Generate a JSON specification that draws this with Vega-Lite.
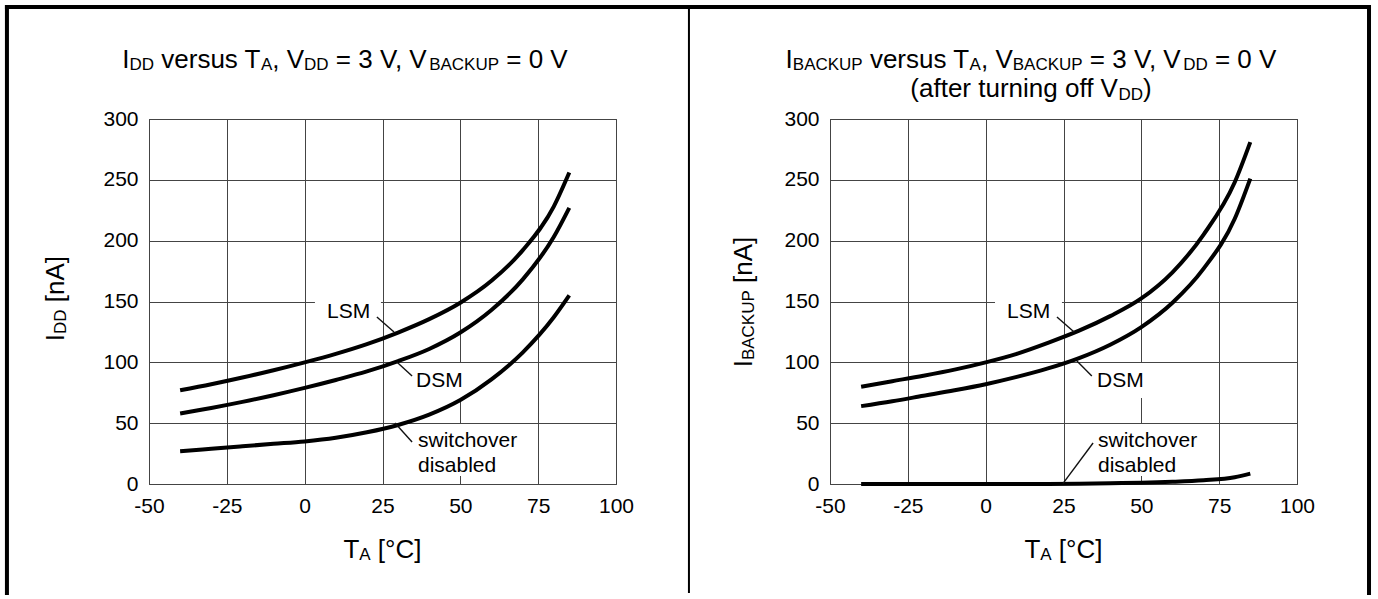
{
  "$schema": "https://vega.github.io/schema/vega-lite/v6.json",
  "background": "white",
  "padding": {"left": 3, "top": 3, "right": 4, "bottom": 0},
  "autosize": {"type": "pad"},
  "bounds": "flush",
  "spacing": 214,
  "config": {
    "font": "Liberation Sans",
    "view": {"stroke": "#222", "strokeWidth": 1},
    "axis": {"domain": false, "ticks": false, "grid": true, "gridColor": "#444", "gridWidth": 1, "gridOpacity": 1, "labelFont": "Liberation Sans", "labelFontSize": 21, "labelColor": "#000", "labelPadding": 11, "labelFlush": false, "labelOverlap": false}
  },
  "datasets": {
    "one": [{}],
    "lc": [
      {"T": -40, "I": 77, "s": "LSM"}, {"T": -30, "I": 82, "s": "LSM"}, {"T": -20, "I": 87.5, "s": "LSM"}, {"T": -10, "I": 93.5, "s": "LSM"}, {"T": 0, "I": 100, "s": "LSM"}, {"T": 10, "I": 107, "s": "LSM"}, {"T": 20, "I": 115, "s": "LSM"}, {"T": 30, "I": 124.5, "s": "LSM"}, {"T": 40, "I": 135.5, "s": "LSM"}, {"T": 50, "I": 149, "s": "LSM"}, {"T": 60, "I": 167, "s": "LSM"}, {"T": 70, "I": 192, "s": "LSM"}, {"T": 80, "I": 228, "s": "LSM"}, {"T": 85, "I": 256, "s": "LSM"},
      {"T": -40, "I": 58, "s": "DSM"}, {"T": -30, "I": 62.5, "s": "DSM"}, {"T": -20, "I": 67.5, "s": "DSM"}, {"T": -10, "I": 73, "s": "DSM"}, {"T": 0, "I": 79, "s": "DSM"}, {"T": 10, "I": 85.5, "s": "DSM"}, {"T": 20, "I": 92.5, "s": "DSM"}, {"T": 30, "I": 101, "s": "DSM"}, {"T": 40, "I": 111, "s": "DSM"}, {"T": 50, "I": 124.5, "s": "DSM"}, {"T": 60, "I": 143, "s": "DSM"}, {"T": 70, "I": 168, "s": "DSM"}, {"T": 80, "I": 203, "s": "DSM"}, {"T": 85, "I": 227, "s": "DSM"},
      {"T": -40, "I": 27, "s": "SW"}, {"T": -30, "I": 29, "s": "SW"}, {"T": -20, "I": 31, "s": "SW"}, {"T": -10, "I": 33, "s": "SW"}, {"T": 0, "I": 35, "s": "SW"}, {"T": 10, "I": 38, "s": "SW"}, {"T": 20, "I": 42.5, "s": "SW"}, {"T": 30, "I": 48.5, "s": "SW"}, {"T": 40, "I": 57, "s": "SW"}, {"T": 50, "I": 69, "s": "SW"}, {"T": 60, "I": 86, "s": "SW"}, {"T": 70, "I": 108, "s": "SW"}, {"T": 80, "I": 137, "s": "SW"}, {"T": 85, "I": 155, "s": "SW"}
    ],
    "rc": [
      {"T": -40, "I": 80, "s": "LSM"}, {"T": -30, "I": 84.5, "s": "LSM"}, {"T": -20, "I": 89, "s": "LSM"}, {"T": -10, "I": 94, "s": "LSM"}, {"T": 0, "I": 100, "s": "LSM"}, {"T": 10, "I": 107, "s": "LSM"}, {"T": 20, "I": 116, "s": "LSM"}, {"T": 30, "I": 126, "s": "LSM"}, {"T": 40, "I": 138, "s": "LSM"}, {"T": 50, "I": 152.5, "s": "LSM"}, {"T": 60, "I": 174, "s": "LSM"}, {"T": 70, "I": 205, "s": "LSM"}, {"T": 80, "I": 248, "s": "LSM"}, {"T": 85, "I": 281, "s": "LSM"},
      {"T": -40, "I": 64, "s": "DSM"}, {"T": -30, "I": 68, "s": "DSM"}, {"T": -20, "I": 72.5, "s": "DSM"}, {"T": -10, "I": 77, "s": "DSM"}, {"T": 0, "I": 82, "s": "DSM"}, {"T": 10, "I": 88, "s": "DSM"}, {"T": 20, "I": 95, "s": "DSM"}, {"T": 30, "I": 103.5, "s": "DSM"}, {"T": 40, "I": 114.5, "s": "DSM"}, {"T": 50, "I": 129, "s": "DSM"}, {"T": 60, "I": 149, "s": "DSM"}, {"T": 70, "I": 177, "s": "DSM"}, {"T": 80, "I": 218, "s": "DSM"}, {"T": 85, "I": 251, "s": "DSM"},
      {"T": -40, "I": 0, "s": "SW"}, {"T": -20, "I": 0, "s": "SW"}, {"T": 0, "I": 0, "s": "SW"}, {"T": 20, "I": 0.1, "s": "SW"}, {"T": 30, "I": 0.3, "s": "SW"}, {"T": 40, "I": 0.6, "s": "SW"}, {"T": 50, "I": 1, "s": "SW"}, {"T": 60, "I": 1.8, "s": "SW"}, {"T": 70, "I": 3.1, "s": "SW"}, {"T": 80, "I": 5.6, "s": "SW"}, {"T": 85, "I": 8.5, "s": "SW"}
    ],
    "lbox": [
      {"x": 3.3, "x2": 24.5, "y": 130.7, "y2": 155.3},
      {"x": 33.8, "x2": 53.1, "y": 70.7, "y2": 99.4},
      {"x": 34.5, "x2": 66.0, "y": 6.6, "y2": 49.3}
    ],
    "rbox": [
      {"x": 3.0, "x2": 24.5, "y": 130.7, "y2": 155.3},
      {"x": 34.2, "x2": 52.8, "y": 70.7, "y2": 99.4},
      {"x": 34.2, "x2": 65.7, "y": 6.6, "y2": 49.3}
    ],
    "llead": [
      {"x": 23.2, "y": 137.3, "x2": 28.7, "y2": 124.9},
      {"x": 29.6, "y": 100.3, "x2": 34.5, "y2": 88.8},
      {"x": 29.0, "y": 50.1, "x2": 34.5, "y2": 34.5}
    ],
    "rlead": [
      {"x": 22.9, "y": 137.3, "x2": 28.4, "y2": 124.9},
      {"x": 29.3, "y": 101.1, "x2": 34.1, "y2": 88.8},
      {"x": 34.5, "y": 33.7, "x2": 24.8, "y2": 0.3}
    ],
    "llab": [
      {"t": "LSM", "x": 7.16, "y": 136.4},
      {"t": "DSM", "x": 35.75, "y": 79.7},
      {"t": "switchover", "x": 36.4, "y": 30.4},
      {"t": "disabled", "x": 36.4, "y": 9.9}
    ],
    "rlab": [
      {"t": "LSM", "x": 6.88, "y": 136.4},
      {"t": "DSM", "x": 35.75, "y": 79.7},
      {"t": "switchover", "x": 36.07, "y": 30.4},
      {"t": "disabled", "x": 36.07, "y": 9.9}
    ],
    "ltm": [
      {"t": "I", "x": -58.59, "y": 341.9},
      {"t": "versus T", "x": -46.06, "y": 341.9},
      {"t": ", V", "x": -10.40, "y": 341.9},
      {"t": "= 3 V, V", "x": 10.02, "y": 341.9},
      {"t": "= 0 V", "x": 64.75, "y": 341.9}
    ],
    "lts": [
      {"t": "DD", "x": -56.27, "y": 340.2},
      {"t": "A", "x": -14.04, "y": 340.2},
      {"t": "DD", "x": -0.19, "y": 340.2},
      {"t": "BACKUP", "x": 39.98, "y": 340.2}
    ],
    "rtm": [
      {"t": "I", "x": -64.28, "y": 341.9},
      {"t": "versus T", "x": -37.18, "y": 341.9},
      {"t": ", V", "x": -1.52, "y": 341.9},
      {"t": "= 3 V, V", "x": 33.47, "y": 341.9},
      {"t": "= 0 V", "x": 73.63, "y": 341.9},
      {"t": "(after turning off V", "x": -24.20, "y": 317.7},
      {"t": ")", "x": 50.53, "y": 317.7}
    ],
    "rts": [
      {"t": "BACKUP", "x": -61.95, "y": 340.2},
      {"t": "A", "x": -5.16, "y": 340.2},
      {"t": "BACKUP", "x": 8.69, "y": 340.2},
      {"t": "DD", "x": 63.43, "y": 340.2},
      {"t": "DD", "x": 42.64, "y": 316.0}
    ],
    "xtm": [
      {"t": "T", "x": 12.45, "y": -60.8},
      {"t": "[°C]", "x": 23.51, "y": -60.8}
    ],
    "xts": [
      {"t": "A", "x": 17.55, "y": -62.5}
    ],
    "lym": [
      {"t": "I", "x": -77.3, "y": 117.4},
      {"t": "[nA]", "x": -77.3, "y": 149.46}
    ],
    "lys": [
      {"t": "DD", "x": -76.6, "y": 123.34}
    ],
    "rym": [
      {"t": "I", "x": -75.1, "y": 95.9},
      {"t": "[nA]", "x": -75.1, "y": 165.24}
    ],
    "rys": [
      {"t": "BACKUP", "x": -74.4, "y": 101.84}
    ]
  },
  "hconcat": [
    {
      "width": 467,
      "height": 365,
      "layer": [
        {
          "data": {"name": "lbox"},
          "mark": {"type": "rect", "fill": "white", "strokeWidth": 0},
          "encoding": {
            "x": {"field": "x", "type": "quantitative", "scale": {"domain": [-50, 100], "nice": false, "zero": false}, "axis": {"values": [-50, -25, 0, 25, 50, 75, 100], "title": null, "labelExpr": "'' + datum.value"}},
            "x2": {"field": "x2"},
            "y": {"field": "y", "type": "quantitative", "scale": {"domain": [0, 300], "nice": false, "zero": false}, "axis": {"values": [0, 50, 100, 150, 200, 250, 300], "title": null, "labelExpr": "'' + datum.value"}},
            "y2": {"field": "y2"}
          }
        },
        {
          "data": {"name": "lc"},
          "mark": {"type": "line", "interpolate": "monotone", "color": "#000", "strokeWidth": 4, "strokeCap": "butt"},
          "encoding": {
            "x": {"field": "T", "type": "quantitative", "scale": {"domain": [-50, 100], "nice": false, "zero": false}, "axis": {"values": [-50, -25, 0, 25, 50, 75, 100], "title": null, "labelExpr": "'' + datum.value"}},
            "y": {"field": "I", "type": "quantitative", "scale": {"domain": [0, 300], "nice": false, "zero": false}, "axis": {"values": [0, 50, 100, 150, 200, 250, 300], "title": null, "labelExpr": "'' + datum.value"}},
            "detail": {"field": "s"}
          }
        },
        {
          "data": {"name": "llead"},
          "mark": {"type": "rule", "color": "#111", "strokeWidth": 1.4},
          "encoding": {
            "x": {"field": "x", "type": "quantitative", "scale": {"domain": [-50, 100], "nice": false, "zero": false}, "axis": {"values": [-50, -25, 0, 25, 50, 75, 100], "title": null, "labelExpr": "'' + datum.value"}},
            "x2": {"field": "x2"},
            "y": {"field": "y", "type": "quantitative", "scale": {"domain": [0, 300], "nice": false, "zero": false}, "axis": {"values": [0, 50, 100, 150, 200, 250, 300], "title": null, "labelExpr": "'' + datum.value"}},
            "y2": {"field": "y2"}
          }
        },
        {
          "data": {"name": "llab"},
          "mark": {"type": "text", "align": "left", "baseline": "alphabetic", "fontSize": 21, "color": "#000"},
          "encoding": {
            "x": {"field": "x", "type": "quantitative", "scale": {"domain": [-50, 100], "nice": false, "zero": false}, "axis": {"values": [-50, -25, 0, 25, 50, 75, 100], "title": null, "labelExpr": "'' + datum.value"}},
            "y": {"field": "y", "type": "quantitative", "scale": {"domain": [0, 300], "nice": false, "zero": false}, "axis": {"values": [0, 50, 100, 150, 200, 250, 300], "title": null, "labelExpr": "'' + datum.value"}},
            "text": {"field": "t"}
          }
        },
        {
          "data": {"name": "ltm"},
          "mark": {"type": "text", "align": "left", "baseline": "alphabetic", "fontSize": 26, "color": "#000"},
          "encoding": {
            "x": {"field": "x", "type": "quantitative", "scale": {"domain": [-50, 100], "nice": false, "zero": false}, "axis": {"values": [-50, -25, 0, 25, 50, 75, 100], "title": null, "labelExpr": "'' + datum.value"}},
            "y": {"field": "y", "type": "quantitative", "scale": {"domain": [0, 300], "nice": false, "zero": false}, "axis": {"values": [0, 50, 100, 150, 200, 250, 300], "title": null, "labelExpr": "'' + datum.value"}},
            "text": {"field": "t"}
          }
        },
        {
          "data": {"name": "lts"},
          "mark": {"type": "text", "align": "left", "baseline": "alphabetic", "fontSize": 17, "color": "#000"},
          "encoding": {
            "x": {"field": "x", "type": "quantitative", "scale": {"domain": [-50, 100], "nice": false, "zero": false}, "axis": {"values": [-50, -25, 0, 25, 50, 75, 100], "title": null, "labelExpr": "'' + datum.value"}},
            "y": {"field": "y", "type": "quantitative", "scale": {"domain": [0, 300], "nice": false, "zero": false}, "axis": {"values": [0, 50, 100, 150, 200, 250, 300], "title": null, "labelExpr": "'' + datum.value"}},
            "text": {"field": "t"}
          }
        },
        {
          "data": {"name": "xtm"},
          "mark": {"type": "text", "align": "left", "baseline": "alphabetic", "fontSize": 26, "color": "#000"},
          "encoding": {
            "x": {"field": "x", "type": "quantitative", "scale": {"domain": [-50, 100], "nice": false, "zero": false}, "axis": {"values": [-50, -25, 0, 25, 50, 75, 100], "title": null, "labelExpr": "'' + datum.value"}},
            "y": {"field": "y", "type": "quantitative", "scale": {"domain": [0, 300], "nice": false, "zero": false}, "axis": {"values": [0, 50, 100, 150, 200, 250, 300], "title": null, "labelExpr": "'' + datum.value"}},
            "text": {"field": "t"}
          }
        },
        {
          "data": {"name": "xts"},
          "mark": {"type": "text", "align": "left", "baseline": "alphabetic", "fontSize": 17, "color": "#000"},
          "encoding": {
            "x": {"field": "x", "type": "quantitative", "scale": {"domain": [-50, 100], "nice": false, "zero": false}, "axis": {"values": [-50, -25, 0, 25, 50, 75, 100], "title": null, "labelExpr": "'' + datum.value"}},
            "y": {"field": "y", "type": "quantitative", "scale": {"domain": [0, 300], "nice": false, "zero": false}, "axis": {"values": [0, 50, 100, 150, 200, 250, 300], "title": null, "labelExpr": "'' + datum.value"}},
            "text": {"field": "t"}
          }
        },
        {
          "data": {"name": "lym"},
          "mark": {"type": "text", "align": "left", "baseline": "alphabetic", "angle": 270, "fontSize": 26, "color": "#000"},
          "encoding": {
            "x": {"field": "x", "type": "quantitative", "scale": {"domain": [-50, 100], "nice": false, "zero": false}, "axis": {"values": [-50, -25, 0, 25, 50, 75, 100], "title": null, "labelExpr": "'' + datum.value"}},
            "y": {"field": "y", "type": "quantitative", "scale": {"domain": [0, 300], "nice": false, "zero": false}, "axis": {"values": [0, 50, 100, 150, 200, 250, 300], "title": null, "labelExpr": "'' + datum.value"}},
            "text": {"field": "t"}
          }
        },
        {
          "data": {"name": "lys"},
          "mark": {"type": "text", "align": "left", "baseline": "alphabetic", "angle": 270, "fontSize": 17, "color": "#000"},
          "encoding": {
            "x": {"field": "x", "type": "quantitative", "scale": {"domain": [-50, 100], "nice": false, "zero": false}, "axis": {"values": [-50, -25, 0, 25, 50, 75, 100], "title": null, "labelExpr": "'' + datum.value"}},
            "y": {"field": "y", "type": "quantitative", "scale": {"domain": [0, 300], "nice": false, "zero": false}, "axis": {"values": [0, 50, 100, 150, 200, 250, 300], "title": null, "labelExpr": "'' + datum.value"}},
            "text": {"field": "t"}
          }
        },
        {
          "data": {"name": "one"},
          "mark": {"type": "rule", "color": "#000", "strokeWidth": 4, "strokeCap": "square"},
          "encoding": {
            "x": {"datum": -95.63, "type": "quantitative", "scale": {"domain": [-50, 100], "nice": false, "zero": false}, "axis": {"values": [-50, -25, 0, 25, 50, 75, 100], "title": null, "labelExpr": "'' + datum.value"}},
            "y": {"datum": -89.59, "type": "quantitative", "scale": {"domain": [0, 300], "nice": false, "zero": false}, "axis": {"values": [0, 50, 100, 150, 200, 250, 300], "title": null, "labelExpr": "'' + datum.value"}},
            "y2": {"datum": 392.04}
          }
        },
        {
          "data": {"name": "one"},
          "mark": {"type": "rule", "color": "#000", "strokeWidth": 4, "strokeCap": "square"},
          "encoding": {
            "x": {"datum": -95.63, "type": "quantitative", "scale": {"domain": [-50, 100], "nice": false, "zero": false}, "axis": {"values": [-50, -25, 0, 25, 50, 75, 100], "title": null, "labelExpr": "'' + datum.value"}},
            "x2": {"datum": 123.43},
            "y": {"datum": 392.04, "type": "quantitative", "scale": {"domain": [0, 300], "nice": false, "zero": false}, "axis": {"values": [0, 50, 100, 150, 200, 250, 300], "title": null, "labelExpr": "'' + datum.value"}}
          }
        },
        {
          "data": {"name": "one"},
          "mark": {"type": "rule", "color": "#000", "strokeWidth": 2},
          "encoding": {
            "x": {"datum": 123.43, "type": "quantitative", "scale": {"domain": [-50, 100], "nice": false, "zero": false}, "axis": {"values": [-50, -25, 0, 25, 50, 75, 100], "title": null, "labelExpr": "'' + datum.value"}},
            "y": {"datum": -89.59, "type": "quantitative", "scale": {"domain": [0, 300], "nice": false, "zero": false}, "axis": {"values": [0, 50, 100, 150, 200, 250, 300], "title": null, "labelExpr": "'' + datum.value"}},
            "y2": {"datum": 392.04}
          }
        }
      ]
    },
    {
      "width": 467,
      "height": 365,
      "layer": [
        {
          "data": {"name": "rbox"},
          "mark": {"type": "rect", "fill": "white", "strokeWidth": 0},
          "encoding": {
            "x": {"field": "x", "type": "quantitative", "scale": {"domain": [-50, 100], "nice": false, "zero": false}, "axis": {"values": [-50, -25, 0, 25, 50, 75, 100], "title": null, "labelExpr": "'' + datum.value"}},
            "x2": {"field": "x2"},
            "y": {"field": "y", "type": "quantitative", "scale": {"domain": [0, 300], "nice": false, "zero": false}, "axis": {"values": [0, 50, 100, 150, 200, 250, 300], "title": null, "labelExpr": "'' + datum.value"}},
            "y2": {"field": "y2"}
          }
        },
        {
          "data": {"name": "rc"},
          "mark": {"type": "line", "interpolate": "monotone", "color": "#000", "strokeWidth": 4, "strokeCap": "butt"},
          "encoding": {
            "x": {"field": "T", "type": "quantitative", "scale": {"domain": [-50, 100], "nice": false, "zero": false}, "axis": {"values": [-50, -25, 0, 25, 50, 75, 100], "title": null, "labelExpr": "'' + datum.value"}},
            "y": {"field": "I", "type": "quantitative", "scale": {"domain": [0, 300], "nice": false, "zero": false}, "axis": {"values": [0, 50, 100, 150, 200, 250, 300], "title": null, "labelExpr": "'' + datum.value"}},
            "detail": {"field": "s"}
          }
        },
        {
          "data": {"name": "rlead"},
          "mark": {"type": "rule", "color": "#111", "strokeWidth": 1.4},
          "encoding": {
            "x": {"field": "x", "type": "quantitative", "scale": {"domain": [-50, 100], "nice": false, "zero": false}, "axis": {"values": [-50, -25, 0, 25, 50, 75, 100], "title": null, "labelExpr": "'' + datum.value"}},
            "x2": {"field": "x2"},
            "y": {"field": "y", "type": "quantitative", "scale": {"domain": [0, 300], "nice": false, "zero": false}, "axis": {"values": [0, 50, 100, 150, 200, 250, 300], "title": null, "labelExpr": "'' + datum.value"}},
            "y2": {"field": "y2"}
          }
        },
        {
          "data": {"name": "rlab"},
          "mark": {"type": "text", "align": "left", "baseline": "alphabetic", "fontSize": 21, "color": "#000"},
          "encoding": {
            "x": {"field": "x", "type": "quantitative", "scale": {"domain": [-50, 100], "nice": false, "zero": false}, "axis": {"values": [-50, -25, 0, 25, 50, 75, 100], "title": null, "labelExpr": "'' + datum.value"}},
            "y": {"field": "y", "type": "quantitative", "scale": {"domain": [0, 300], "nice": false, "zero": false}, "axis": {"values": [0, 50, 100, 150, 200, 250, 300], "title": null, "labelExpr": "'' + datum.value"}},
            "text": {"field": "t"}
          }
        },
        {
          "data": {"name": "rtm"},
          "mark": {"type": "text", "align": "left", "baseline": "alphabetic", "fontSize": 26, "color": "#000"},
          "encoding": {
            "x": {"field": "x", "type": "quantitative", "scale": {"domain": [-50, 100], "nice": false, "zero": false}, "axis": {"values": [-50, -25, 0, 25, 50, 75, 100], "title": null, "labelExpr": "'' + datum.value"}},
            "y": {"field": "y", "type": "quantitative", "scale": {"domain": [0, 300], "nice": false, "zero": false}, "axis": {"values": [0, 50, 100, 150, 200, 250, 300], "title": null, "labelExpr": "'' + datum.value"}},
            "text": {"field": "t"}
          }
        },
        {
          "data": {"name": "rts"},
          "mark": {"type": "text", "align": "left", "baseline": "alphabetic", "fontSize": 17, "color": "#000"},
          "encoding": {
            "x": {"field": "x", "type": "quantitative", "scale": {"domain": [-50, 100], "nice": false, "zero": false}, "axis": {"values": [-50, -25, 0, 25, 50, 75, 100], "title": null, "labelExpr": "'' + datum.value"}},
            "y": {"field": "y", "type": "quantitative", "scale": {"domain": [0, 300], "nice": false, "zero": false}, "axis": {"values": [0, 50, 100, 150, 200, 250, 300], "title": null, "labelExpr": "'' + datum.value"}},
            "text": {"field": "t"}
          }
        },
        {
          "data": {"name": "xtm"},
          "mark": {"type": "text", "align": "left", "baseline": "alphabetic", "fontSize": 26, "color": "#000"},
          "encoding": {
            "x": {"field": "x", "type": "quantitative", "scale": {"domain": [-50, 100], "nice": false, "zero": false}, "axis": {"values": [-50, -25, 0, 25, 50, 75, 100], "title": null, "labelExpr": "'' + datum.value"}},
            "y": {"field": "y", "type": "quantitative", "scale": {"domain": [0, 300], "nice": false, "zero": false}, "axis": {"values": [0, 50, 100, 150, 200, 250, 300], "title": null, "labelExpr": "'' + datum.value"}},
            "text": {"field": "t"}
          }
        },
        {
          "data": {"name": "xts"},
          "mark": {"type": "text", "align": "left", "baseline": "alphabetic", "fontSize": 17, "color": "#000"},
          "encoding": {
            "x": {"field": "x", "type": "quantitative", "scale": {"domain": [-50, 100], "nice": false, "zero": false}, "axis": {"values": [-50, -25, 0, 25, 50, 75, 100], "title": null, "labelExpr": "'' + datum.value"}},
            "y": {"field": "y", "type": "quantitative", "scale": {"domain": [0, 300], "nice": false, "zero": false}, "axis": {"values": [0, 50, 100, 150, 200, 250, 300], "title": null, "labelExpr": "'' + datum.value"}},
            "text": {"field": "t"}
          }
        },
        {
          "data": {"name": "rym"},
          "mark": {"type": "text", "align": "left", "baseline": "alphabetic", "angle": 270, "fontSize": 26, "color": "#000"},
          "encoding": {
            "x": {"field": "x", "type": "quantitative", "scale": {"domain": [-50, 100], "nice": false, "zero": false}, "axis": {"values": [-50, -25, 0, 25, 50, 75, 100], "title": null, "labelExpr": "'' + datum.value"}},
            "y": {"field": "y", "type": "quantitative", "scale": {"domain": [0, 300], "nice": false, "zero": false}, "axis": {"values": [0, 50, 100, 150, 200, 250, 300], "title": null, "labelExpr": "'' + datum.value"}},
            "text": {"field": "t"}
          }
        },
        {
          "data": {"name": "rys"},
          "mark": {"type": "text", "align": "left", "baseline": "alphabetic", "angle": 270, "fontSize": 17, "color": "#000"},
          "encoding": {
            "x": {"field": "x", "type": "quantitative", "scale": {"domain": [-50, 100], "nice": false, "zero": false}, "axis": {"values": [-50, -25, 0, 25, 50, 75, 100], "title": null, "labelExpr": "'' + datum.value"}},
            "y": {"field": "y", "type": "quantitative", "scale": {"domain": [0, 300], "nice": false, "zero": false}, "axis": {"values": [0, 50, 100, 150, 200, 250, 300], "title": null, "labelExpr": "'' + datum.value"}},
            "text": {"field": "t"}
          }
        },
        {
          "data": {"name": "one"},
          "mark": {"type": "rule", "color": "#000", "strokeWidth": 4, "strokeCap": "square"},
          "encoding": {
            "x": {"datum": -95.31, "type": "quantitative", "scale": {"domain": [-50, 100], "nice": false, "zero": false}, "axis": {"values": [-50, -25, 0, 25, 50, 75, 100], "title": null, "labelExpr": "'' + datum.value"}},
            "x2": {"datum": 123.13},
            "y": {"datum": 392.04, "type": "quantitative", "scale": {"domain": [0, 300], "nice": false, "zero": false}, "axis": {"values": [0, 50, 100, 150, 200, 250, 300], "title": null, "labelExpr": "'' + datum.value"}}
          }
        },
        {
          "data": {"name": "one"},
          "mark": {"type": "rule", "color": "#000", "strokeWidth": 4, "strokeCap": "square"},
          "encoding": {
            "x": {"datum": 123.13, "type": "quantitative", "scale": {"domain": [-50, 100], "nice": false, "zero": false}, "axis": {"values": [-50, -25, 0, 25, 50, 75, 100], "title": null, "labelExpr": "'' + datum.value"}},
            "y": {"datum": -89.59, "type": "quantitative", "scale": {"domain": [0, 300], "nice": false, "zero": false}, "axis": {"values": [0, 50, 100, 150, 200, 250, 300], "title": null, "labelExpr": "'' + datum.value"}},
            "y2": {"datum": 392.04}
          }
        }
      ]
    }
  ]
}
